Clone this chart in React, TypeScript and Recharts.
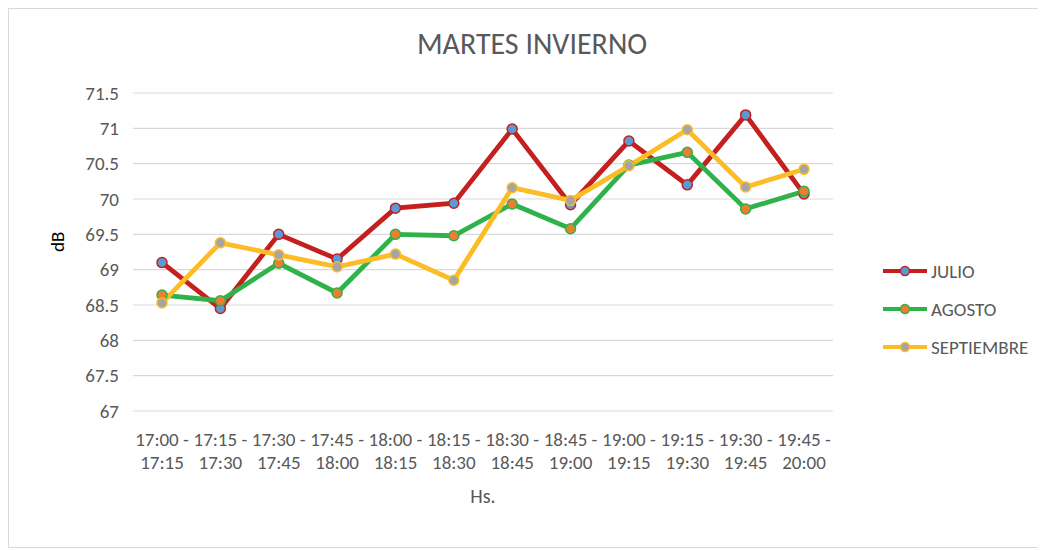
import React from 'react';
import { LineChart, Line, XAxis, YAxis, CartesianGrid, Label } from 'recharts';

const categories = [
  '17:00 - 17:15', '17:15 - 17:30', '17:30 - 17:45', '17:45 - 18:00',
  '18:00 - 18:15', '18:15 - 18:30', '18:30 - 18:45', '18:45 - 19:00',
  '19:00 - 19:15', '19:15 - 19:30', '19:30 - 19:45', '19:45 - 20:00',
];
const julio = [69.1, 68.45, 69.5, 69.15, 69.87, 69.94, 70.99, 69.92, 70.82, 70.2, 71.19, 70.07];
const agosto = [68.64, 68.56, 69.09, 68.67, 69.5, 69.48, 69.93, 69.58, 70.48, 70.66, 69.86, 70.11];
const septiembre = [68.53, 69.38, 69.21, 69.04, 69.22, 68.85, 70.16, 69.98, 70.47, 70.98, 70.17, 70.42];
const yTicks = [67, 67.5, 68, 68.5, 69, 69.5, 70, 70.5, 71, 71.5];

const series = [
  { key: 'JULIO', values: julio, line: '#c3201f', dot: '#5b9bd5' },
  { key: 'AGOSTO', values: agosto, line: '#2fb24a', dot: '#ed7d31' },
  { key: 'SEPTIEMBRE', values: septiembre, line: '#fcbc26', dot: '#a5a5a5' },
];

const data = categories.map((c, i) => {
  const row: Record<string, string | number> = { name: c };
  series.forEach((s) => (row[s.key] = s.values[i]));
  return row;
});

const font = 'Calibri, Carlito, Lato, "Noto Sans", sans-serif';

const XTick = (props: any) => {
  const { x, y, payload } = props;
  const [a, b] = String(payload.value).split(' - ');
  return (
    <g transform={`translate(${x},${y})`}>
      <text textAnchor="middle" fill="#595959" fontSize={19} fontFamily={font}>
        <tspan x={0} dy={27}>{a + ' -'}</tspan>
        <tspan x={0} dy={23}>{b}</tspan>
      </text>
    </g>
  );
};

const LegendBox = () => (
  <div style={{ position: 'absolute', left: 874, top: 243, fontFamily: font }}>
    {series.map((s) => (
      <div key={s.key} style={{ display: 'flex', alignItems: 'center', height: 38 }}>
        <svg width={46} height={14}>
          <line x1={0} y1={7} x2={44} y2={7} stroke={s.line} strokeWidth={4} />
          <circle cx={22} cy={7} r={4.5} fill={s.dot} stroke={s.line} strokeWidth={1.5} />
        </svg>
        <span style={{ fontSize: 19, color: '#595959', marginLeft: 2 }}>{s.key}</span>
      </div>
    ))}
  </div>
);

export default function App() {
  return (
    <div
      style={{
        position: 'relative',
        width: 1040,
        height: 540,
        border: '1px solid #d9d9d9',
        background: '#fff',
        boxSizing: 'border-box',
      }}
    >
      <div
        style={{
          position: 'absolute',
          top: 16,
          left: 4,
          width: '100%',
          textAlign: 'center',
          fontFamily: font,
          fontSize: 30,
          color: '#595959',
        }}
      >
        MARTES INVIERNO
      </div>
      <LineChart
        width={1038}
        height={538}
        data={data}
        margin={{ top: 84, right: 214, left: 0, bottom: 0 }}
      >
        <CartesianGrid vertical={false} stroke="#d9d9d9" strokeWidth={1.2} />
        <XAxis
          dataKey="name"
          axisLine={false}
          tickLine={false}
          height={136}
          interval={0}
          padding={{ left: 29, right: 29 }}
          tick={<XTick />}
        >
          <Label value="Hs." position="insideTop" offset={78} fill="#595959" fontSize={20} fontFamily={font} />
        </XAxis>
        <YAxis
          domain={[67, 71.5]}
          ticks={yTicks}
          axisLine={false}
          tickLine={false}
          width={124}
          tickMargin={8}
          tick={{ fill: '#595959', fontSize: 19, fontFamily: font }}
        >
          <Label value="dB" angle={-90} position="insideLeft" offset={48} fill="#000" fontSize={19} fontFamily={font} />
        </YAxis>
        {series.map((s) => (
          <Line
            key={s.key}
            dataKey={s.key}
            stroke={s.line}
            strokeWidth={4.8}
            dot={{ r: 5, fill: s.dot, stroke: s.line, strokeWidth: 1.5 }}
            activeDot={false}
            isAnimationActive={false}
          />
        ))}
      </LineChart>
      <LegendBox />
    </div>
  );
}
